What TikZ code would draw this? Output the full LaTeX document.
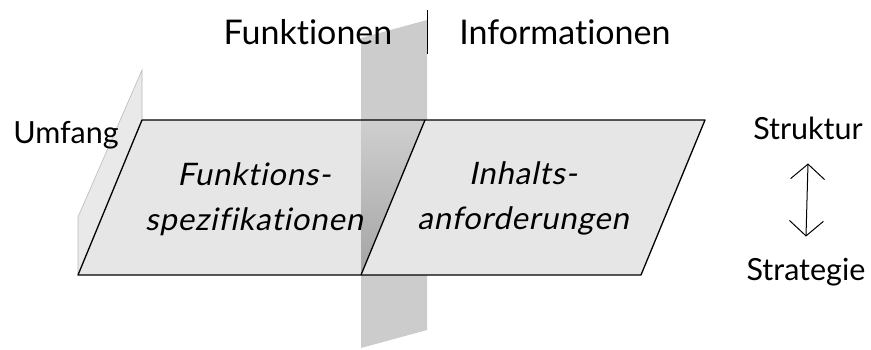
\documentclass[tikz,border=0pt]{standalone}
\usepackage{fontspec}
\setmainfont{Lato}[Ligatures=NoCommon]
\newfontfamily\slantfont{Lato}[Ligatures=NoCommon,FakeSlant=0.2,LetterSpace=3]
\usepackage{xcolor}
\definecolor{planegray}{HTML}{E6E6E6}
\definecolor{wallgray}{HTML}{E9E9E9}
\definecolor{cutgray}{HTML}{CCCCCC}
\definecolor{shadetop}{HTML}{CFCFCF}
\definecolor{shadebot}{HTML}{A4A4A4}
\usepackage{tikz}
\usetikzlibrary{arrows.meta,positioning,calc}
\tikzset{
  >={Straight Barb[length=15pt,width=34pt,line width=1pt]},
  label/.style={font=\fontsize{30.5}{30}\selectfont,inner sep=0pt,anchor=base},
  title/.style={label,font=\fontsize{34}{34}\selectfont},
  field/.style={label,font=\slantfont\fontsize{31}{45}\selectfont,align=center},
  plane/.style={draw=black,line width=1.3pt,line join=round},
  wall/.style={draw=gray!55,line width=0.6pt,fill=wallgray},
  cut/.style={fill=cutgray},
  dblarrow/.style={<->,line width=1pt}
}

\begin{document}
\begin{tikzpicture}[x=1pt,y=-1pt]
  \useasboundingbox (0,0) rectangle (871,349);

  % corners of the horizontal plane
  \coordinate (tl) at (142,120);
  \coordinate (tr) at (705,120);
  \coordinate (br) at (641,275);
  \coordinate (bl) at (78,275);
  \coordinate (mt) at (425,120);
  \coordinate (mb) at (361,275);

  % side wall and cutting plane
  \draw[wall] (bl) -- (78,217) -- (142,70) -- (tl);
  \fill[cut] (361,38) -- (427,20) -- (427,330) -- (361,348) -- cycle;

  \fill[planegray] (tl) -- (tr) -- (br) -- (bl) -- cycle;
  \shade[top color=shadetop,bottom color=shadebot] (361,120) -- (mt) -- (mb) -- cycle;
  \draw[plane] (tl) -- (tr) -- (br) -- (bl) -- cycle;
  \draw[plane] (mt) -- (mb);

  % titles
  \node[title] (funktionen) at (308,44) {Funktionen};
  \node[title] (informationen) at (565,44) {Informationen};
  \draw[line width=1pt] (427,10) -- (427,54);

  \node[field] (fspec) at (254,230) {Funktions-\\spezifikationen};
  \node[field] (inhalt) at (523,229) {Inhalts-\\anforderungen};

  \node[label] (umfang) at (66,143) {Umfang};
  \node[label] (struktur) at (808,139) {Struktur};
  \node[label] (strategie) at (806,280) {Strategie};
  \draw[dblarrow] ([yshift=-24pt]struktur.south) -- ([yshift=21pt]strategie.north);
\end{tikzpicture}
\end{document}
